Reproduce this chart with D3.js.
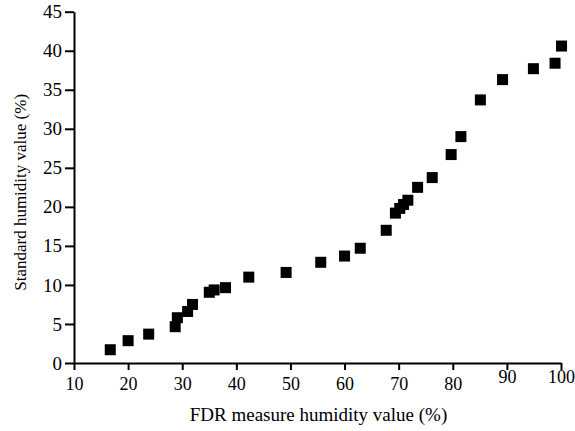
<!DOCTYPE html>
<html>
<head>
<meta charset="utf-8">
<script src="https://cdn.jsdelivr.net/npm/d3@7"></script>
<style>
  html, body { margin: 0; padding: 0; background: #fff; }
  svg { display: block; }
  .ylbl { font-family: "Liberation Serif", "Times New Roman", serif; font-size: 19px; fill: #000; }
  .xlbl { font-family: "Liberation Serif", "Times New Roman", serif; font-size: 18px; fill: #000; }
  .lbl { font-family: "Liberation Serif", "Times New Roman", serif; font-size: 17px; fill: #000; }
  .xt { font-family: "Liberation Serif", "Times New Roman", serif; font-size: 19px; fill: #000; }
</style>
</head>
<body>
<svg id="chart" width="575" height="431"></svg>
<script>
const fdrValues = [16.7, 20.0, 23.8, 28.7, 29.1, 31.0, 31.9, 35.0, 35.9, 38.0, 42.3, 49.2, 55.6, 60.0, 62.9, 67.7, 69.4, 70.2, 70.9, 71.7, 73.5, 76.2, 79.7, 81.5, 85.1, 89.2, 94.9, 98.9, 100.1];
const standardValues = [1.7, 2.86, 3.7, 4.65, 5.8, 6.6, 7.5, 9.06, 9.36, 9.65, 11.0, 11.6, 12.9, 13.7, 14.7, 17.0, 19.2, 19.8, 20.3, 20.85, 22.5, 23.75, 26.7, 29.0, 33.7, 36.3, 37.7, 38.4, 40.6];
const xTicks = [10, 20, 30, 40, 50, 60, 70, 80, 90, 100];
const yTicks = [0, 5, 10, 15, 20, 25, 30, 35, 40, 45];
const xTitle = "FDR measure humidity value (%)";
const yTitle = "Standard humidity value (%)";

(function () {
const svg = d3.select("#chart");
const mLeft = 74, mRight = 561, mTop = 11.7, mBottom = 363;
const x = d3.scaleLinear().domain([10, 100]).range([mLeft, mRight]);
const y = d3.scaleLinear().domain([0, 45]).range([mBottom, mTop]);

const xAxis = svg.append("g").attr("transform", `translate(0,${mBottom})`)
  .call(d3.axisBottom(x).tickValues(xTicks).tickSize(7).tickSizeOuter(0).tickPadding(7));
const yAxis = svg.append("g").attr("transform", `translate(${mLeft},0)`)
  .call(d3.axisLeft(y).tickValues(yTicks).tickSize(9).tickSizeOuter(0).tickPadding(3));

[xAxis, yAxis].forEach(g => {
  g.attr("font-family", null).attr("font-size", null);
  g.select(".domain").attr("stroke", "#000").attr("stroke-width", 2);
  g.selectAll(".tick line").attr("stroke", "#000").attr("stroke-width", 2);
});
yAxis.selectAll(".tick text").attr("class", "ylbl");
xAxis.selectAll(".tick text").attr("class", "xlbl");
xAxis.selectAll(".tick text").filter(d => d >= 90).attr("dy", "0.35em");
xAxis.selectAll(".tick text").filter(d => d < 90).attr("dy", "0.71em");

svg.append("g").selectAll("rect")
  .data(fdrValues.map((v, i) => [v, standardValues[i]]))
  .join("rect")
  .attr("x", d => x(d[0]) - 5.5)
  .attr("y", d => y(d[1]) - 5.5)
  .attr("width", 11)
  .attr("height", 11)
  .attr("fill", "#000");

svg.append("text")
  .attr("class", "xt")
  .attr("x", 318.5)
  .attr("y", 421)
  .attr("text-anchor", "middle")
  .text(xTitle);

svg.append("text")
  .attr("class", "lbl")
  .attr("transform", `translate(26,${(mTop + mBottom) / 2 + 5}) rotate(-90)`)
  .attr("text-anchor", "middle")
  .text(yTitle);
})();
</script>
</body>
</html>
